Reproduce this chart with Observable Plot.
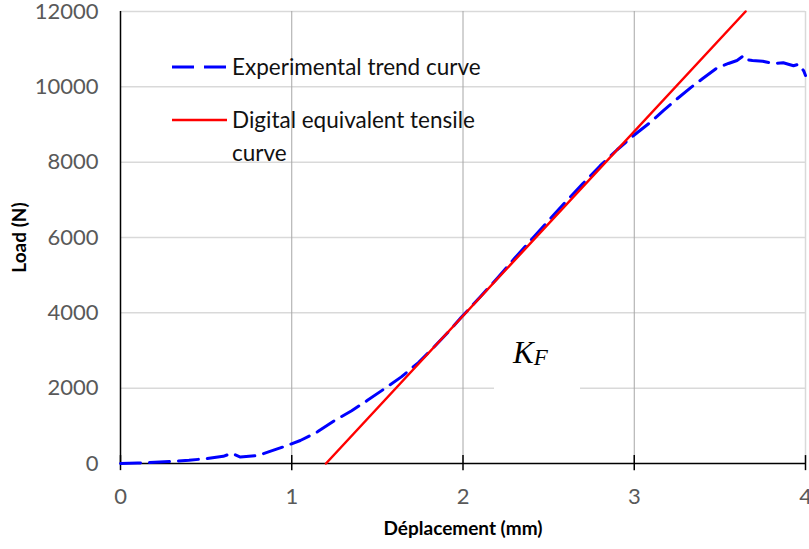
<!DOCTYPE html>
<html>
<head>
<meta charset="utf-8">
<script src="https://cdn.jsdelivr.net/npm/d3@7"></script>
<script src="https://cdn.jsdelivr.net/npm/@observablehq/plot@0.6"></script>
<style>
  html, body { margin: 0; padding: 0; background: white; }
  svg { display: block; }
</style>
</head>
<body>
<div id="chart"></div>
<script>
// ---- data ----
const xTicks = [0, 1, 2, 3, 4];
const yTicks = [0, 2000, 4000, 6000, 8000, 10000, 12000];

const expDisp = [0, 0.1, 0.2, 0.3, 0.4, 0.5, 0.6, 0.65, 0.7, 0.8, 0.86, 0.95, 1.05, 1.15, 1.25, 1.35, 1.44, 1.54, 1.64, 1.74, 1.83, 1.92, 1.99, 2.1, 2.2, 2.3, 2.4, 2.5, 2.6, 2.7, 2.8, 2.9, 3.0, 3.1, 3.17, 3.25, 3.33, 3.4, 3.48, 3.55, 3.6, 3.64, 3.66, 3.69, 3.75, 3.81, 3.87, 3.93, 3.96, 3.99, 4.0];
const expLoad = [0, 10, 30, 55, 85, 130, 190, 270, 170, 210, 300, 440, 610, 840, 1140, 1400, 1670, 1980, 2300, 2680, 3090, 3520, 3880, 4420, 4920, 5440, 5950, 6450, 6950, 7430, 7900, 8330, 8720, 9080, 9370, 9680, 9980, 10220, 10490, 10620, 10700, 10830, 10720, 10700, 10680, 10620, 10640, 10560, 10600, 10420, 10300];

const tensileDisp = [1.2, 3.65];
const tensileLoad = [0, 12000];

const legendLabels = ["Experimental trend curve", "Digital equivalent tensile", "curve"];
const xLabel = "Déplacement (mm)";
const yLabel = "Load (N)";

// annotation K_F in data units
const kfPos = {x: 2.295, y: 2660};
const kfBox = {x1: 2.184, x2: 2.686, y1: 1500, y2: 3400};

const exp = expDisp.map((d, i) => ({x: d, y: expLoad[i]}));
const tensile = tensileDisp.map((d, i) => ({x: d, y: tensileLoad[i]}));

const plot = Plot.plot({
  width: 809,
  height: 549,
  marginLeft: 120,
  marginRight: 4,
  marginTop: 11,
  marginBottom: 86,
  style: {fontFamily: "Lato, sans-serif", background: "white", overflow: "visible"},
  x: {domain: [0, 4]},
  y: {domain: [0, 12000]},
  marks: [
    Plot.ruleY(yTicks.slice(1), {y: d => d, stroke: "#d9d9d9", strokeWidth: 1.5}),
    Plot.ruleX([1, 2, 3], {x: d => d, stroke: "#a6a6a6", strokeWidth: 1}),
    Plot.ruleX([4], {x: d => d, stroke: "#d9d9d9", strokeWidth: 1.5}),
    Plot.rect([kfBox], {x1: "x1", x2: "x2", y1: "y1", y2: "y2", fill: "white"}),
    Plot.ruleY([0], {y: d => d, stroke: "black", strokeWidth: 1.5}),
    Plot.ruleX([0], {x: d => d, stroke: "black", strokeWidth: 1.5}),
    Plot.ruleX(xTicks, {x: d => d, y1: -190, y2: 210, stroke: "black", strokeWidth: 1.5}),
    Plot.line(exp, {x: "x", y: "y", stroke: "#0000ff", strokeWidth: 3, strokeDasharray: "20,9", curve: "linear"}),
    Plot.line(tensile, {x: "x", y: "y", stroke: "#ff0000", strokeWidth: 2.5}),
    Plot.axisX({ticks: xTicks, tickSize: 0, tickPadding: 25, fontSize: 22, color: "#595959", label: null, tickFormat: d => String(d)}),
    Plot.axisY({ticks: yTicks, tickSize: 0, tickPadding: 22, fontSize: 22, color: "#595959", label: null, tickFormat: d => String(d)}),
    Plot.text([xLabel], {frameAnchor: "bottom", dy: 71, fontSize: 19, fontWeight: "bold", fill: "black", textAnchor: "middle"}),
    Plot.text([yLabel], {frameAnchor: "left", dx: -101, rotate: -90, fontSize: 19, fontWeight: "bold", fill: "black", textAnchor: "middle"})
  ]
});

document.getElementById("chart").appendChild(plot);

// legend and K_F annotation
const svg = d3.select(plot);
const sx = plot.scale("x"), sy = plot.scale("y");
const lg = svg.append("g").attr("font-family", "Lato, sans-serif").attr("font-size", 22.5)
  .attr("fill", "#111").attr("text-anchor", "start");
lg.append("line").attr("x1", 172).attr("x2", 227).attr("y1", 67).attr("y2", 67)
  .attr("stroke", "#0000ff").attr("stroke-width", 3).attr("stroke-dasharray", "22,10");
lg.append("text").attr("x", 232).attr("y", 67).attr("dy", "0.35em").text(legendLabels[0]);
lg.append("line").attr("x1", 172).attr("x2", 227).attr("y1", 120).attr("y2", 120)
  .attr("stroke", "#ff0000").attr("stroke-width", 2.5);
lg.append("text").attr("x", 232).attr("y", 120).attr("dy", "0.35em").text(legendLabels[1]);
lg.append("text").attr("x", 232).attr("y", 153).attr("dy", "0.35em").text(legendLabels[2]);

const kx = sx.apply(kfPos.x), ky = sy.apply(kfPos.y);
const kt = svg.append("text").attr("x", kx).attr("y", ky).attr("text-anchor", "start")
  .attr("font-family", "'Liberation Serif', 'DejaVu Serif', serif").attr("font-style", "italic").attr("fill", "black");
kt.append("tspan").attr("font-size", 31).text("K");
kt.append("tspan").attr("font-size", 23).attr("dy", 2).text("F");
</script>
</body>
</html>
